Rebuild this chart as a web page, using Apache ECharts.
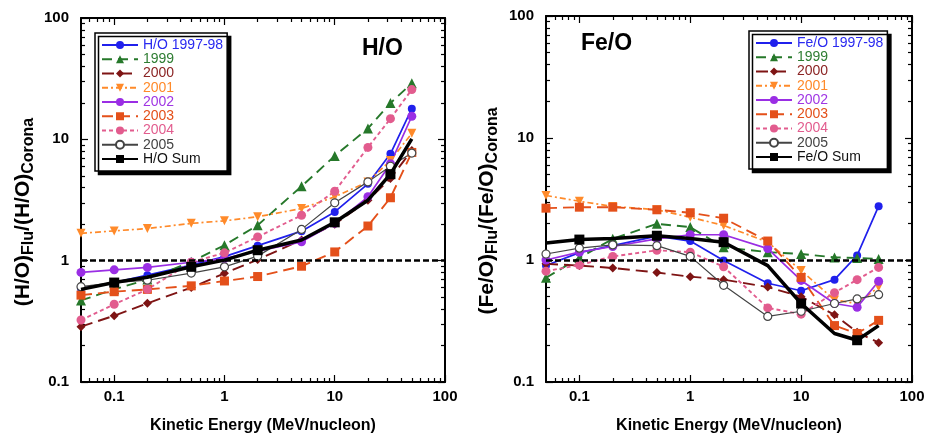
<!DOCTYPE html>
<html>
<head>
<meta charset="utf-8">
<script src="https://cdn.jsdelivr.net/npm/echarts@6/dist/echarts.min.js"></script>
<style>
html, body { margin: 0; padding: 0; background: #fff; }
#chart { width: 929px; height: 438px; }
</style>
</head>
<body>
<div id="chart"></div>
<script>
// kinetic energy bins (MeV/nucleon)
var energy = [0.05, 0.1, 0.2, 0.5, 1, 2, 5, 10, 20, 32, 50];

// (H/O)Flu / (H/O)Corona
var ho9798 = [0.59, 0.66, 0.76, 0.92, 1.08, 1.33, 1.75, 2.52, 4.3, 7.6, 17.9];
var ho1999 = [0.47, 0.58, 0.70, 0.98, 1.34, 1.96, 4.1, 7.3, 12.3, 19.9, 29];
var ho2000 = [0.286, 0.352, 0.445, 0.60, 0.786, 1.02, 1.48, 2.0, 3.15, 4.76, 8.1];
var ho2001 = [1.68, 1.76, 1.84, 2.03, 2.13, 2.3, 2.69, 3.36, 4.46, 6.7, 11.2];
var ho2002 = [0.80, 0.84, 0.88, 0.97, 1.04, 1.2, 1.43, 2.03, 3.36, 6.3, 15.5];
var ho2003 = [0.52, 0.555, 0.58, 0.62, 0.68, 0.74, 0.90, 1.18, 1.93, 3.3, 7.8];
var ho2004 = [0.324, 0.437, 0.58, 0.97, 1.16, 1.57, 2.37, 3.73, 8.58, 14.8, 25.7];
var ho2005 = [0.61, 0.66, 0.69, 0.79, 0.89, 1.09, 1.81, 3.0, 4.46, 6.0, 7.7];
var hoSum = [0.58, 0.66, 0.73, 0.89, 1.01, 1.22, 1.48, 2.07, 3.15, 5.16, 10.1];

// (Fe/O)Flu / (Fe/O)Corona
var fe9798 = [0.9, 1.15, 1.31, 1.57, 1.43, 0.99, 0.645, 0.56, 0.69, 1.09, 2.76];
var fe1999 = [0.715, 1.04, 1.49, 1.98, 1.86, 1.27, 1.16, 1.12, 1.05, 1.04, 1.02];
var fe2000 = [0.93, 0.9, 0.86, 0.79, 0.73, 0.69, 0.6, 0.5, 0.355, 0.256, 0.21];
var fe2001 = [3.38, 3.03, 2.75, 2.58, 2.24, 1.92, 1.4, 0.82, 0.47, 0.44, 0.6];
var fe2002 = [1.0, 1.16, 1.29, 1.49, 1.61, 1.61, 1.24, 0.68, 0.44, 0.41, 0.67];
var fe2003 = [2.66, 2.71, 2.71, 2.58, 2.44, 2.2, 1.43, 0.72, 0.29, 0.25, 0.32];
var fe2004 = [0.81, 0.91, 1.07, 1.2, 1.16, 0.88, 0.405, 0.36, 0.54, 0.69, 0.87];
var fe2005 = [1.12, 1.25, 1.33, 1.31, 1.07, 0.62, 0.345, 0.38, 0.44, 0.48, 0.52];
var feSum = [1.38, 1.47, 1.5, 1.58, 1.5, 1.4, 0.9, 0.44, 0.25, 0.22, 0.29];
// Sum curve only has a marker on every other point
var sumMarked = [false, true, false, true, false, true, false, true, false, true, false];

var hoNames = ['H/O 1997-98', '1999', '2000', '2001', '2002', '2003', '2004', '2005', 'H/O Sum'];
var feNames = ['Fe/O 1997-98', '1999', '2000', '2001', '2002', '2003', '2004', '2005', 'Fe/O Sum'];

var majorTicks = [0.1, 1, 10, 100];
var minorX = [0.06, 0.07, 0.08, 0.09];
var minorY = [];
[0.1, 1, 10].forEach(function (d) {
    for (var k = 2; k <= 9; k++) {
        minorX.push(+(k * d).toFixed(3));
        minorY.push(+(k * d).toFixed(3));
    }
});

var FONT = '"Liberation Sans", Arial, Helvetica, sans-serif';

var styles = [
    {color: '#2020ec', text: '#2a2af0', type: 'solid', width: 1.7, symbol: 'circle', size: 8},
    {color: '#26782a', text: '#2e7d32', type: [10, 6], width: 1.9, symbol: 'triangle', size: 10},
    {color: '#7e1414', text: '#8b2424', type: [12, 6], width: 1.9, symbol: 'diamond', size: 9},
    {color: '#ff8a2a', text: '#ff8a2a', type: [6, 3, 2, 3], width: 1.7, symbol: 'triangle', size: 9, rotate: 180},
    {color: '#9a2ee4', text: '#a036e4', type: 'solid', width: 1.7, symbol: 'circle', size: 9},
    {color: '#e4501a', text: '#e4501a', type: [11, 6], width: 1.9, symbol: 'rect', size: 9},
    {color: '#e25c8e', text: '#e25c8e', type: [4, 3], width: 1.9, symbol: 'circle', size: 9},
    {color: '#444444', text: '#444444', type: 'solid', width: 1.2, symbol: 'circle', size: 8, open: true},
    {color: '#000000', text: '#111111', type: 'solid', width: 3.5, symbol: 'rect', size: 10, sum: true}
];

function fmt(v) {
    return v < 1 ? (Math.round(v * 10) / 10).toFixed(1) : String(Math.round(v));
}

function makeAxes(g, isX, name, nameGap) {
    var pos = isX ? ['bottom', 'top'] : ['left', 'right'];
    var minor = isX ? minorX : minorY;
    var base = {
        type: 'log', gridIndex: g, logBase: 10,
        min: isX ? 0.05 : 0.1, max: 100,
        splitLine: {show: false}
    };
    var list = [];
    for (var side = 0; side < 2; side++) {
        for (var m = 0; m < 2; m++) {
            var ax = Object.assign({}, base, {
                position: pos[side],
                axisLine: {show: m === 0, onZero: false, lineStyle: {color: '#000', width: 2}},
                axisTick: {show: true, inside: true, length: m === 0 ? 7 : 4,
                    customValues: m === 0 ? majorTicks : minor,
                    lineStyle: {color: '#000', width: 1.2}},
                axisLabel: {show: false}
            });
            if (side === 0 && m === 0) {
                ax.axisLabel = {
                    show: true, customValues: majorTicks, formatter: fmt,
                    margin: isX ? 7 : 12, color: '#000', fontSize: 15, fontWeight: 'bold', fontFamily: FONT
                };
                ax.name = name;
                ax.nameLocation = 'middle';
                ax.nameGap = nameGap;
                if (isX) {
                    ax.nameTextStyle = {color: '#000', fontSize: 16, fontWeight: 'bold', fontFamily: FONT};
                } else {
                    ax.nameRotate = 90;
                    ax.nameTextStyle = {
                        color: '#000', fontFamily: FONT, padding: [0, 24, 0, 0],
                        rich: {
                            m: {fontSize: 21, fontWeight: 'bold', fontFamily: FONT, color: '#000', lineHeight: 28, verticalAlign: 'middle'},
                            s: {fontSize: 16, fontWeight: 'bold', fontFamily: FONT, color: '#000', lineHeight: 16, verticalAlign: 'bottom'}
                        }
                    };
                }
            }
            list.push(ax);
        }
    }
    return list;
}

function buildSeries(names, lists, axisIdx) {
    return names.map(function (nm, i) {
        var st = styles[i];
        var data = energy.map(function (e, j) {
            if (st.sum) {
                return {value: [e, lists[i][j]], symbol: sumMarked[j] ? 'rect' : 'none'};
            }
            return [e, lists[i][j]];
        });
        var s = {
            name: nm, type: 'line', xAxisIndex: axisIdx, yAxisIndex: axisIdx,
            data: data, symbol: st.symbol, symbolSize: st.size, symbolRotate: st.rotate || 0,
            lineStyle: {color: st.color, width: st.width, type: st.type},
            itemStyle: st.open ? {color: '#fff', borderColor: st.color, borderWidth: 1.2} : {color: st.color},
            emphasis: {disabled: true},
            z: st.sum ? 5 : 3
        };
        if (i === 0) {
            s.markLine = {
                silent: true, symbol: 'none', label: {show: false},
                lineStyle: {color: '#000', type: [6, 3], width: 2.5},
                data: [{yAxis: 1}]
            };
        }
        return s;
    });
}

function makeLegend(names, left, top) {
    return {
        left: left, top: top, orient: 'vertical',
        itemWidth: 36, itemHeight: 10, itemGap: 0.25,
        padding: [5, 4, 5, 6],
        backgroundColor: '#fff', borderColor: '#000', borderWidth: 1.5,
        shadowColor: '#000', shadowBlur: 0, shadowOffsetX: 3.5, shadowOffsetY: 3.5,
        selectedMode: false,
        textStyle: {fontSize: 14, fontFamily: FONT, lineHeight: 13},
        data: names.map(function (nm, i) {
            return {name: nm, textStyle: {color: styles[i].text}};
        })
    };
}

var xName = 'Kinetic Energy (MeV/nucleon)';
var xAxes = makeAxes(0, true, xName, 36).concat(makeAxes(1, true, xName, 36));
var yAxes = makeAxes(0, false, '{m|(H/O)}{s|Flu}{m|/(H/O)}{s|Corona}', 44)
    .concat(makeAxes(1, false, '{m|(Fe/O)}{s|Flu}{m|/(Fe/O)}{s|Corona}', 45));

var option = {
    animation: false,
    backgroundColor: '#fff',
    title: [
        {text: 'H/O', left: 362, top: 37, padding: 0,
            textStyle: {fontSize: 23, fontWeight: 'bold', fontFamily: FONT, color: '#000'}},
        {text: 'Fe/O', left: 581, top: 32, padding: 0,
            textStyle: {fontSize: 23, fontWeight: 'bold', fontFamily: FONT, color: '#000'}}
    ],
    grid: [
        {left: 81, top: 18, width: 364, height: 364, outerBoundsMode: 'none'},
        {left: 546, top: 16, width: 366, height: 366, outerBoundsMode: 'none'}
    ],
    legend: [makeLegend(hoNames, 95, 33), makeLegend(feNames, 749, 31)],
    xAxis: xAxes,
    yAxis: yAxes,
    series: buildSeries(hoNames, [ho9798, ho1999, ho2000, ho2001, ho2002, ho2003, ho2004, ho2005, hoSum], 0)
        .concat(buildSeries(feNames, [fe9798, fe1999, fe2000, fe2001, fe2002, fe2003, fe2004, fe2005, feSum], 4))
};

var chart = echarts.init(document.getElementById('chart'));
chart.setOption(option);
</script>
</body>
</html>
